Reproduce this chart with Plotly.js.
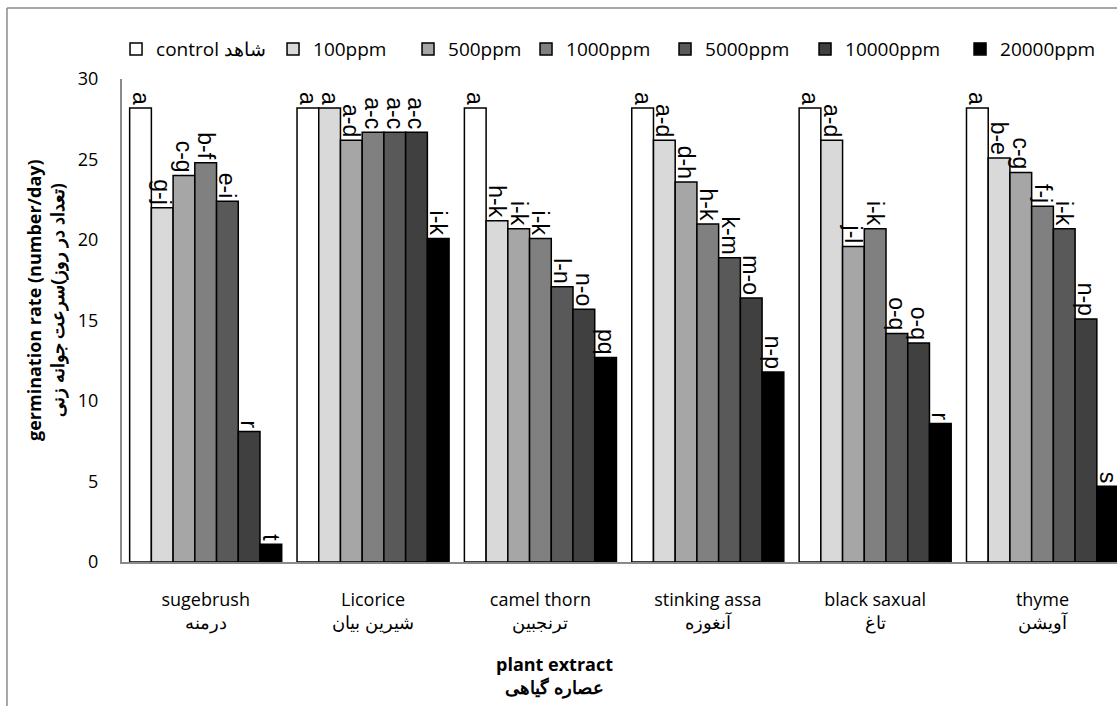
<!DOCTYPE html>
<html><head><meta charset="utf-8">
<script src="https://cdn.plot.ly/plotly-3.0.1.min.js"></script>
<style>html,body{margin:0;padding:0;background:#fff;} #chart{width:1117px;height:706px;}</style>
</head><body><div id="chart"></div>
<script>
const categoriesEn = ['sugebrush','Licorice','camel thorn','stinking assa','black saxual','thyme'];
const categoriesFa = ['درمنه','شیرین بیان','ترنجبین','آنغوزه','تاغ','آویشن'];
const seriesNames = ['control شاهد','100ppm','500ppm','1000ppm','5000ppm','10000ppm','20000ppm'];

const control  = [28.2, 28.2, 28.2, 28.2, 28.2, 28.2];
const ppm100   = [22.0, 28.2, 21.2, 26.2, 26.2, 25.1];
const ppm500   = [24.0, 26.2, 20.7, 23.6, 19.6, 24.2];
const ppm1000  = [24.8, 26.7, 20.1, 21.0, 20.7, 22.1];
const ppm5000  = [22.4, 26.7, 17.1, 18.9, 14.2, 20.7];
const ppm10000 = [8.1, 26.7, 15.7, 16.4, 13.6, 15.1];
const ppm20000 = [1.1, 20.1, 12.7, 11.8, 8.6, 4.7];

const lettersControl  = ['a','a','a','a','a','a'];
const letters100      = ['g-j','a','h-k','a-d','a-d','b-e'];
const letters500      = ['c-g','a-d','i-k','d-h','j-l','c-g'];
const letters1000     = ['b-f','a-c','i-k','h-k','i-k','f-j'];
const letters5000     = ['e-i','a-c','l-n','k-m','o-q','i-k'];
const letters10000    = ['r','a-c','n-o','m-o','o-q','n-p'];
const letters20000    = ['t','i-k','pq','n-p','r','s'];

const yTickVals = [0, 5, 10, 15, 20, 25, 30];

const seriesValues = [control, ppm100, ppm500, ppm1000, ppm5000, ppm10000, ppm20000];
const seriesLetters = [lettersControl, letters100, letters500, letters1000, letters5000, letters10000, letters20000];
const colors = ['#ffffff','#d9d9d9','#a6a6a6','#808080','#595959','#404040','#000000'];
const legendWidths = [112, 90, 73, 94, 95, 110, 90];

const traces = seriesValues.map((vals, i) => ({
  type: 'bar',
  name: seriesNames[i],
  x: categoriesEn,
  y: vals,
  text: seriesLetters[i],
  textposition: 'outside',
  textangle: 90,
  constraintext: 'none',
  cliponaxis: false,
  textfont: {family: 'Liberation Sans, Arial, sans-serif', size: 23, color: '#000'},
  marker: {color: colors[i], line: {color: '#000', width: 1.5}},
  legendwidth: legendWidths[i],
  hoverinfo: 'x+y+name'
}));

const tickText = categoriesEn.map((c, i) => c + '<br>' + categoriesFa[i]);

const layout = {
  width: 1117, height: 706,
  margin: {l: 122, r: 0, t: 79, b: 144},
  paper_bgcolor: '#fff', plot_bgcolor: '#fff',
  font: {family: 'Open Sans, sans-serif', color: '#000'},
  barmode: 'group',
  bargap: 0.0915,
  bargroupgap: 0,
  showlegend: true,
  legend: {
    orientation: 'h', x: -0.006, xanchor: 'left', y: 1.062, yanchor: 'middle',
    font: {family: 'Open Sans, sans-serif', size: 19, color: '#000'},
    bgcolor: 'rgba(0,0,0,0)'
  },
  xaxis: {
    type: 'category',
    range: [-0.5, 5.445],
    tickvals: categoriesEn,
    ticktext: tickText,
    tickfont: {family: 'Open Sans, sans-serif', size: 18, color: '#000'},
    ticks: '',
    ticklabelstandoff: 20,
    showline: true, linecolor: '#8a8a8a', linewidth: 2,
    showgrid: false, zeroline: false, fixedrange: true
  },
  yaxis: {
    range: [0, 30],
    tickvals: yTickVals,
    tickfont: {family: 'Open Sans, sans-serif', size: 18, color: '#000'},
    ticks: '',
    ticklabelstandoff: 18,
    showline: true, linecolor: '#8a8a8a', linewidth: 2,
    showgrid: false, zeroline: false, fixedrange: true
  },
  annotations: [
    {
      xref: 'paper', yref: 'paper', x: -0.0774, y: 0.5424, xanchor: 'center', yanchor: 'middle',
      textangle: -90, showarrow: false,
      text: '<b>germination rate (number/day)</b><br><b>\u200F(تعداد در روز)سرعت جوانه زنی</b>',
      font: {family: 'Open Sans, sans-serif', size: 18, color: '#000'}
    },
    {
      xref: 'paper', yref: 'paper', x: 0.435, y: -0.236, xanchor: 'center', yanchor: 'middle',
      showarrow: false,
      text: '<b>plant extract</b><br><b>عصاره گیاهی</b>',
      font: {family: 'Open Sans, sans-serif', size: 18, color: '#000'}
    }
  ],
  shapes: [
    {type: 'line', xref: 'paper', yref: 'paper', x0: -0.1156, x1: -0.1156, y0: 1.147, y1: -0.35, line: {color: '#8a8a8a', width: 1.5}},
    {type: 'line', xref: 'paper', yref: 'paper', x0: -0.1156, x1: 1.1, y0: 1.147, y1: 1.147, line: {color: '#8a8a8a', width: 1.5}}
  ]
};

Plotly.newPlot('chart', traces, layout, {displayModeBar: false, responsive: false});
</script>
</body></html>
